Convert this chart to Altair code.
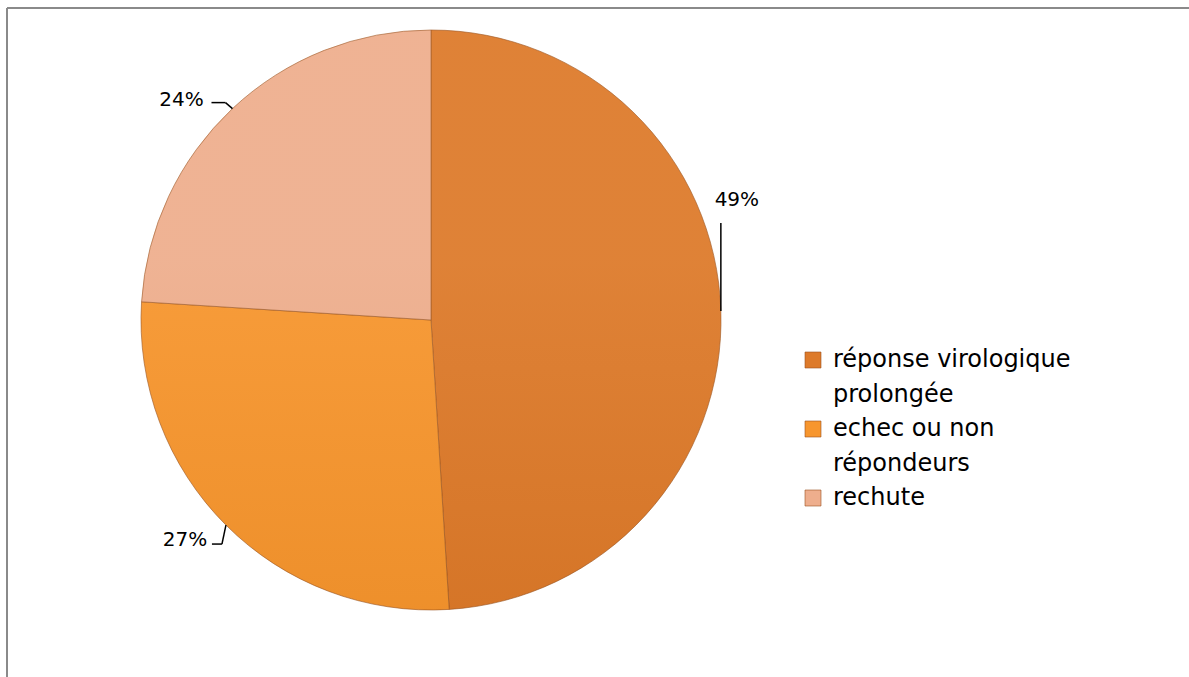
import altair as alt
import pandas as pd

# ---- data ----
categories = ["réponse virologique prolongée", "echec ou non répondeurs", "rechute"]
values = [49, 27, 24]
pct_labels = ["49%", "27%", "24%"]
legend_text = [["réponse virologique", "prolongée"], ["echec ou non", "répondeurs"], ["rechute"]]

# ---- style ----
colors = ["#DD7A2A", "#F7962E", "#EEAE8D"]
FONT = "DejaVu Sans"
W, H = 1182, 669
CX, CY, R = 424, 312, 290
# leader-line / label offsets from the slice's outer mid point (style, per slice)
knee_dx = [0, -4, -7]
knee_dy = [-88, 19, -6]
end_dx = [0, -14, -21]
end_dy = [-88, 19, -6]
lab_dx = [16, -41, -51]
lab_dy = [-111, 15, -9]

df = pd.DataFrame({"cat": categories, "value": values, "label": pct_labels, "idx": range(len(values))})

rows = []
for i, (c, lines) in enumerate(zip(categories, legend_text)):
    for j, t in enumerate(lines):
        rows.append({"cat": c, "text": t, "first": j == 0})
leg = pd.DataFrame(rows)
leg["line"] = range(len(leg))

color_scale = alt.Scale(domain=categories, range=colors)

def arr(a):
    return "[" + ",".join(str(v) for v in a) + "]"

geo = (
    alt.Chart(df)
    .transform_window(cum="sum(value)", sort=[alt.SortField("idx")], frame=[None, 0])
    .transform_joinaggregate(total="sum(value)")
    .transform_calculate(mid=f"2*PI*(datum.cum - datum.value/2)/datum.total")
    .transform_calculate(
        ex=f"{CX} + {R}*sin(datum.mid)",
        ey=f"{CY} - {R}*cos(datum.mid)",
    )
    .transform_calculate(
        kx=f"datum.ex + {arr(knee_dx)}[datum.idx]",
        ky=f"datum.ey + {arr(knee_dy)}[datum.idx]",
        tx=f"datum.ex + {arr(end_dx)}[datum.idx]",
        ty=f"datum.ey + {arr(end_dy)}[datum.idx]",
        lx=f"datum.ex + {arr(lab_dx)}[datum.idx]",
        ly=f"datum.ey + {arr(lab_dy)}[datum.idx]",
    )
)

frame_v = alt.Chart(df).mark_rule(color="#8a8a8a", strokeWidth=2).encode(
    x=alt.value(0), y=alt.value(0), y2=alt.value(H + 10)
)
frame_h = alt.Chart(df).mark_rule(color="#8a8a8a", strokeWidth=2).encode(
    x=alt.value(0), x2=alt.value(W + 10), y=alt.value(0)
)

pie = alt.Chart(df).mark_arc(
    outerRadius=R, stroke="#9a5320", strokeWidth=1, strokeOpacity=0.6
).encode(
    theta=alt.Theta("value:Q", stack=True),
    color=alt.Color("cat:N", scale=color_scale, legend=None),
    order=alt.Order("idx:Q"),
    x=alt.value(CX),
    y=alt.value(CY),
)

shade = alt.Chart(pd.DataFrame({"v": [1]})).mark_arc(
    outerRadius=R,
    fill=alt.LinearGradient(
        gradient="linear", x1=0, y1=0, x2=0, y2=1,
        stops=[alt.GradientStop(offset=0, color="#ffffff"),
               alt.GradientStop(offset=0.4, color="#ffffff"),
               alt.GradientStop(offset=1, color="#5a2a00")],
    ),
    fillOpacity=0.06,
).encode(
    theta=alt.value(0), theta2=alt.value(6.2832),
    x=alt.value(CX), y=alt.value(CY),
)

seg1 = geo.mark_rule(color="black", strokeWidth=1.5).encode(
    x=alt.X("ex:Q", scale=None, axis=None),
    y=alt.Y("ey:Q", scale=None, axis=None),
    x2="kx:Q",
    y2="ky:Q",
)
seg2 = geo.mark_rule(color="black", strokeWidth=1.5).encode(
    x=alt.X("kx:Q", scale=None, axis=None),
    y=alt.Y("ky:Q", scale=None, axis=None),
    x2="tx:Q",
    y2="ty:Q",
)
lab = geo.mark_text(font=FONT, fontSize=20, color="black", align="center", baseline="middle").encode(
    x=alt.X("lx:Q", scale=None, axis=None),
    y=alt.Y("ly:Q", scale=None, axis=None),
    text="label:N",
)

legbase = alt.Chart(leg).transform_calculate(
    yy="352 + datum.line*34.5"
)
leg_sym = legbase.transform_filter("datum.first").mark_square(size=256, opacity=1, stroke="#9a5320", strokeWidth=0.6).encode(
    x=alt.value(806),
    y=alt.Y("yy:Q", scale=None, axis=None),
    color=alt.Color("cat:N", scale=color_scale, legend=None),
)
leg_txt = legbase.mark_text(font=FONT, fontSize=24, color="black", align="left", baseline="middle").encode(
    x=alt.value(826),
    y=alt.Y("yy:Q", scale=None, axis=None),
    text="text:N",
)

chart = (
    alt.layer(frame_v, frame_h, pie, shade, seg1, seg2, lab, leg_sym, leg_txt)
    .properties(width=W, height=H, padding={"left": 7, "top": 8, "right": 0, "bottom": 0},
                autosize=alt.AutoSizeParams(type="none"), background="white")
    .configure_view(stroke=None)
)

chart.save("out.html", embed_options={"renderer": "svg", "actions": False})
